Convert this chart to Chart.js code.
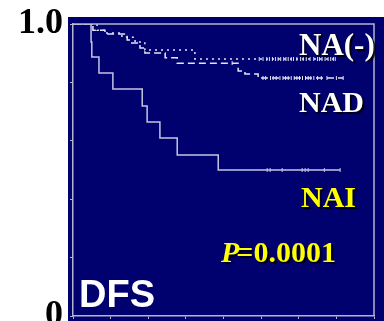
<!DOCTYPE html>
<html>
<head>
<meta charset="utf-8">
<script src="https://cdn.jsdelivr.net/npm/chart.js@4.4.0/dist/chart.umd.min.js"></script>
<style>
  html, body { margin: 0; padding: 0; background: #ffffff; overflow: hidden; }
  #wrap { position: relative; width: 384px; height: 321px; }
  #panel { position: absolute; left: 68px; top: 17px; width: 316px; height: 304px; background: #00006e; }
  #chart { position: absolute; left: 0; top: 0; }
</style>
</head>
<body>
<div id="wrap">
  <div id="panel"></div>
  <canvas id="chart" width="384" height="321"></canvas>
</div>
<script>
// curvas (tempo em unidades do eixo 0-8, sobrevida 0-1)
const naNegTimes = [0.64, 0.85, 1.30, 1.65, 1.91, 3.24];
const naNegSurv  = [0.979, 0.969, 0.955, 0.938, 0.911, 0.880];
const naNegEnd = 6.97;
const naNegCensor = [4.95, 5.05, 5.15, 5.22, 5.3, 5.38, 5.45, 5.52, 5.6, 5.66, 5.72, 5.8, 5.86,
  5.95, 6.05, 6.12, 6.2, 6.3, 6.4, 6.5, 6.55, 6.62, 6.7, 6.78, 6.85, 6.92, 6.97];

const nadTimes = [0.53, 0.85, 1.44, 1.52, 1.78, 1.91, 2.45, 2.77, 4.39, 4.57, 4.92];
const nadSurv  = [0.979, 0.966, 0.945, 0.935, 0.918, 0.901, 0.884, 0.866, 0.839, 0.829, 0.815];
const nadEnd = 7.18;
const nadCensor = [4.23, 5.05, 5.12, 5.25, 5.32, 5.4, 5.5, 5.58, 5.65, 5.72, 5.8, 5.88, 5.95,
  6.02, 6.1, 6.18, 6.25, 6.32, 6.4, 6.5, 6.6, 6.75, 7.0, 7.18];

const naiTimes = [0.48, 0.5, 0.69, 1.06, 1.84, 1.97, 2.31, 2.77, 3.86];
const naiSurv  = [0.938, 0.887, 0.832, 0.777, 0.719, 0.664, 0.610, 0.551, 0.50];
const naiEnd = 7.10;
const naiCensor = [5.16, 5.24, 5.56, 6.09, 6.17, 6.25, 6.68, 7.10];

const yTicks = [0, 0.2, 0.4, 0.6, 0.8, 1.0];

function stepPoints(times, surv, end) {
    const pts = [{ x: 0, y: 1 }];
    times.forEach((t, i) => pts.push({ x: t, y: surv[i] }));
    pts.push({ x: end, y: surv[surv.length - 1] });
    return pts;
}

function censorPoints(times, surv, cens) {
    return cens.map(c => {
        let s = 1;
        times.forEach((t, i) => { if (t <= c) s = surv[i]; });
        return { x: c, y: s };
    });
}

function censorSet(data, color) {
    return {
        type: 'scatter',
        data: data,
        showLine: false,
        pointStyle: 'line',
        rotation: 90,
        radius: 2,
        borderWidth: 1,
        borderColor: color,
        hoverRadius: 2
    };
}

const lineColor = '#e4e4f2';
const naiColor = '#c4c4e2';
const boxColor = '#b4b4cc';

// moldura e textos
const framePlugin = {
    id: 'frame',
    afterDraw(chart) {
        const ctx = chart.ctx;
        const a = chart.chartArea;
        ctx.save();
        ctx.strokeStyle = boxColor;
        ctx.lineWidth = 1.5;
        ctx.beginPath();
        ctx.moveTo(a.left, a.top);
        ctx.lineTo(a.right, a.top);
        ctx.lineTo(a.right, a.bottom);
        ctx.stroke();

        ctx.textBaseline = 'alphabetic';
        ctx.textAlign = 'left';
        ctx.shadowColor = 'rgba(0,0,0,0.9)';
        ctx.shadowOffsetX = 2;
        ctx.shadowOffsetY = 2;
        ctx.shadowBlur = 1;

        ctx.font = 'bold 31px "Liberation Serif", serif';
        ctx.fillStyle = '#ffffff';
        ctx.fillText('NA(-)', 299, 55);
        ctx.font = 'bold 30px "Liberation Serif", serif';
        ctx.fillText('NAD', 299, 112);

        ctx.fillStyle = '#ffff00';
        ctx.fillText('NAI', 301, 207);
        ctx.font = 'italic bold 30px "Liberation Serif", serif';
        ctx.fillText('P', 221, 262);
        const pw = ctx.measureText('P').width;
        ctx.font = 'bold 30px "Liberation Serif", serif';
        ctx.fillText('=0.0001', 221 + pw - 3, 262);

        ctx.shadowColor = 'transparent';
        ctx.fillStyle = '#ffffff';
        ctx.font = 'bold 38px "Liberation Sans", sans-serif';
        ctx.fillText('DFS', 79, 307);
        ctx.restore();
    }
};

new Chart(document.getElementById('chart'), {
    type: 'line',
    data: {
        datasets: [
            {
                label: 'NA(-)',
                data: stepPoints(naNegTimes, naNegSurv, naNegEnd),
                stepped: true,
                borderColor: lineColor,
                borderWidth: 1.5,
                borderDash: [2, 4],
                pointRadius: 0
            },
            {
                label: 'NAD',
                data: stepPoints(nadTimes, nadSurv, nadEnd),
                stepped: true,
                borderColor: lineColor,
                borderWidth: 1.5,
                borderDash: [7, 4],
                pointRadius: 0
            },
            {
                label: 'NAI',
                data: stepPoints(naiTimes, naiSurv, naiEnd),
                stepped: true,
                borderColor: naiColor,
                borderWidth: 1.5,
                pointRadius: 0
            },
            censorSet(censorPoints(naNegTimes, naNegSurv, naNegCensor), lineColor),
            censorSet(censorPoints(nadTimes, nadSurv, nadCensor), lineColor),
            censorSet(censorPoints(naiTimes, naiSurv, naiCensor), naiColor)
        ]
    },
    options: {
        responsive: false,
        animation: false,
        layout: { padding: { top: 24, right: 10, left: 0, bottom: 0 } },
        plugins: {
            legend: { display: false },
            tooltip: { enabled: false }
        },
        scales: {
            x: {
                type: 'linear',
                min: 0,
                max: 8,
                ticks: { display: false, stepSize: 1 },
                grid: { drawOnChartArea: false, color: boxColor, tickLength: 3 },
                border: { display: true, color: boxColor, width: 1.5 },
                afterFit: s => { s.height = 5; s.paddingLeft = 0; s.paddingRight = 0; }
            },
            y: {
                min: 0,
                max: 1,
                afterBuildTicks: s => { s.ticks = yTicks.map(v => ({ value: v })); },
                ticks: {
                    color: '#000000',
                    padding: 7,
                    font: { family: '"Liberation Serif", serif', size: 36, weight: 'bold' },
                    callback: v => v === 1 ? '1.0' : (v === 0 ? '0' : '')
                },
                grid: { drawOnChartArea: false, color: boxColor, tickLength: 3 },
                border: { display: true, color: boxColor, width: 1.5 },
                afterFit: s => { s.width = 73; s.paddingTop = 0; s.paddingBottom = 0; }
            }
        }
    },
    plugins: [framePlugin]
});
</script>
</body>
</html>
